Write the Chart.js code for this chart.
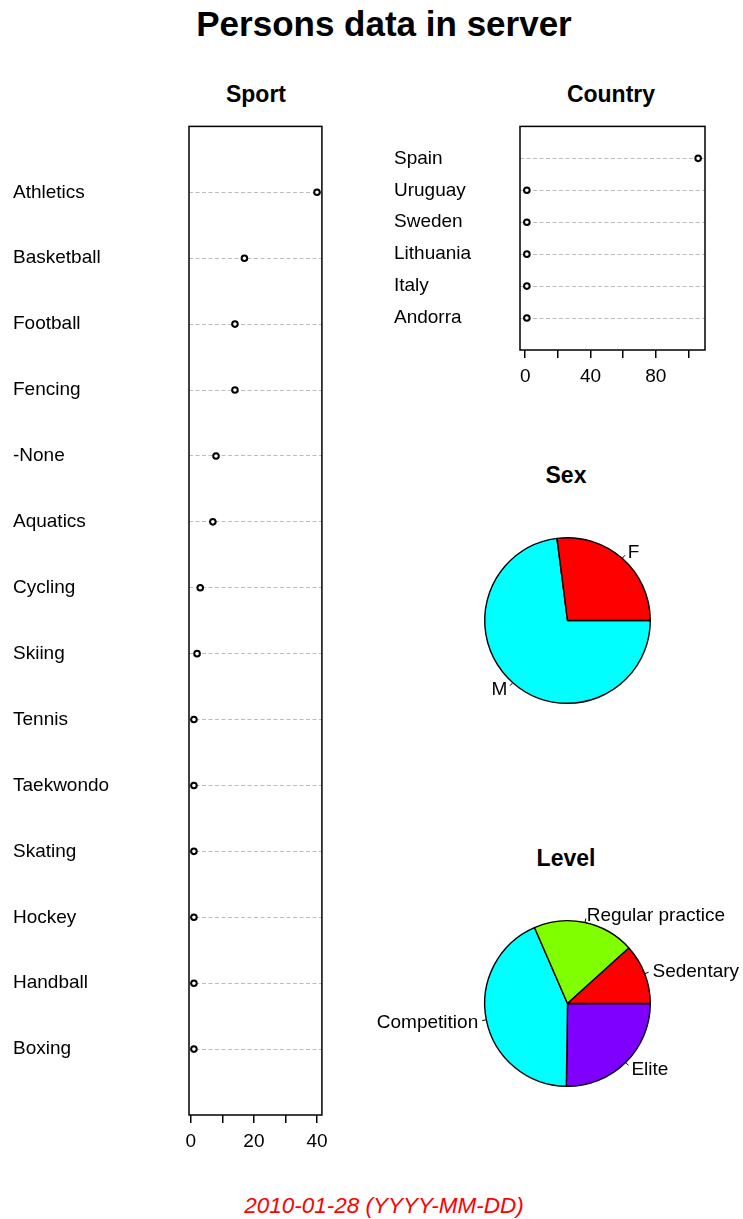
<!DOCTYPE html>
<html>
<head>
<meta charset="utf-8">
<script src="https://cdn.jsdelivr.net/npm/chart.js@4.4.1/dist/chart.umd.min.js"></script>
<style>
  html, body { margin: 0; padding: 0; background: #fff; }
  body { width: 743px; height: 1219px; position: relative; overflow: hidden;
         font-family: "Liberation Sans", Arial, sans-serif; color: #000; }
  canvas { position: absolute; }
  .txt { position: absolute; transform: translate(-50%, -50%); line-height: 1; white-space: nowrap; }
  .main { font-size: 35px; font-weight: bold; }
  .sub { font-size: 23px; font-weight: bold; }
  .foot { font-size: 22.5px; font-style: italic; color: #ff0000; }
</style>
</head>
<body>
<div class="txt main" style="left:384px;top:23px">Persons data in server</div>
<div class="txt sub" style="left:256px;top:94px">Sport</div>
<div class="txt sub" style="left:611px;top:94px">Country</div>
<div class="txt sub" style="left:566px;top:475px">Sex</div>
<div class="txt sub" style="left:566px;top:858px">Level</div>
<div class="txt foot" style="left:384px;top:1206px">2010-01-28 (YYYY-MM-DD)</div>

<canvas id="sport" width="335" height="1060" style="left:0px;top:112px;width:335px;height:1060px"></canvas>
<canvas id="country" width="340" height="300" style="left:380px;top:112px;width:340px;height:300px"></canvas>
<canvas id="sex" width="220" height="200" style="left:460px;top:521px;width:220px;height:200px"></canvas>
<canvas id="level" width="383" height="200" style="left:360px;top:903px;width:383px;height:200px"></canvas>

<script>
// data
const sportNames = ['Athletics', 'Basketball', 'Football', 'Fencing', '-None', 'Aquatics', 'Cycling',
  'Skiing', 'Tennis', 'Taekwondo', 'Skating', 'Hockey', 'Handball', 'Boxing'];
const sportCounts = [40, 17, 14, 14, 8, 7, 3, 2, 1, 1, 1, 1, 1, 1];
const sportTicks = [0, 10, 20, 30, 40];
const sportTickLabels = [0, 20, 40];

const countryNames = ['Spain', 'Uruguay', 'Sweden', 'Lithuania', 'Italy', 'Andorra'];
const countryCounts = [106, 1, 1, 1, 1, 1];
const countryTicks = [0, 20, 40, 60, 80, 100];
const countryTickLabels = [0, 40, 80];

const sexLabels = ['F', 'M'];
const sexCounts = [30, 81];
const sexColors = ['#ff0000', '#00ffff'];

const levelLabels = ['Sedentary', 'Regular practice', 'Competition', 'Elite'];
const levelCounts = [13, 22, 48, 28];
const levelColors = ['#ff0000', '#80ff00', '#00ffff', '#8000ff'];

Chart.defaults.font.family = '"Liberation Sans", Arial, sans-serif';
Chart.defaults.color = '#000';

// box round the plot region, like R's box()
const frame = {
  id: 'frame',
  beforeDatasetsDraw(chart) {
    const { ctx, chartArea: a } = chart;
    ctx.save();
    ctx.strokeStyle = '#000';
    ctx.lineWidth = 1.5;
    ctx.strokeRect(a.left, a.top, a.right - a.left, a.bottom - a.top);
    ctx.restore();
  }
};

// pie labels with short leader lines (R pie style)
const pieLabels = {
  id: 'pieLabels',
  afterDatasetsDraw(chart) {
    const { ctx } = chart;
    const names = chart.data.labels;
    ctx.save();
    ctx.font = '19px "Liberation Sans", Arial, sans-serif';
    ctx.fillStyle = '#000';
    ctx.strokeStyle = '#000';
    ctx.lineWidth = 1;
    ctx.textBaseline = 'middle';
    chart.getDatasetMeta(0).data.forEach((arc, i) => {
      const { x, y, startAngle, endAngle, outerRadius: r } =
        arc.getProps(['x', 'y', 'startAngle', 'endAngle', 'outerRadius'], true);
      const mid = (startAngle + endAngle) / 2;
      const c = Math.cos(mid), s = Math.sin(mid);
      ctx.beginPath();
      ctx.moveTo(x + r * c, y + r * s);
      ctx.lineTo(x + 1.05 * r * c, y + 1.05 * r * s);
      ctx.stroke();
      ctx.textAlign = c < 0 ? 'right' : 'left';
      ctx.fillText(names[i], x + 1.1 * r * c, y + 1.1 * r * s + 1);
    });
    ctx.restore();
  }
};

function dotChart(id, names, counts, ticks, shown, area) {
  const lo = Math.min(...counts), hi = Math.max(...counts);
  const ext = (hi - lo) * 0.04;
  return new Chart(document.getElementById(id), {
    type: 'scatter',
    data: {
      datasets: [{
        data: counts.map((v, i) => ({ x: v, y: i + 1 })),
        pointStyle: 'circle',
        pointRadius: 2.8,
        borderWidth: 2,
        borderColor: '#000',
        backgroundColor: '#fff',
      }]
    },
    options: {
      responsive: false,
      animation: false,
      events: [],
      layout: { padding: area.pad },
      plugins: { legend: { display: false }, tooltip: { enabled: false } },
      scales: {
        x: {
          type: 'linear',
          min: lo - ext,
          max: hi + ext,
          afterBuildTicks: (s) => { s.ticks = ticks.map(v => ({ value: v })); },
          afterFit: (s) => { s.height = area.xh; },
          ticks: {
            autoSkip: false, maxRotation: 0, padding: 7, font: { size: 19 },
            callback: (v) => shown.includes(v) ? String(v) : '',
          },
          grid: { drawOnChartArea: false, drawTicks: true, tickLength: 8, lineWidth: 1.5, color: '#000' },
          border: { display: false },
        },
        y: {
          type: 'linear',
          min: 0,
          max: names.length + 1,
          reverse: true,
          afterBuildTicks: (s) => { s.ticks = names.map((n, i) => ({ value: i + 1 })); },
          afterFit: (s) => { s.width = area.yw; },
          ticks: {
            autoSkip: false, crossAlign: 'far', font: { size: 19 },
            callback: (v) => names[v - 1],
          },
          grid: { drawTicks: false, color: '#bdbdbd', lineWidth: 1 },
          border: { display: false, dash: [4, 2.5] },
        },
      },
    },
    plugins: [frame],
  });
}

function pieChart(id, labels, counts, colors, pad) {
  // R draws slices counter-clockwise from 3 o'clock; Chart.js goes clockwise
  return new Chart(document.getElementById(id), {
    type: 'pie',
    data: {
      labels: labels.slice().reverse(),
      datasets: [{
        data: counts.slice().reverse(),
        backgroundColor: colors.slice().reverse(),
        borderColor: '#000',
        borderWidth: 1.4,
      }]
    },
    options: {
      responsive: false,
      animation: false,
      events: [],
      rotation: 90,
      layout: { padding: pad },
      plugins: { legend: { display: false }, tooltip: { enabled: false } },
    },
    plugins: [pieLabels],
  });
}

dotChart('sport', sportNames, sportCounts, sportTicks, sportTickLabels,
  { pad: { top: 14, left: 13, right: 12, bottom: 0 }, yw: 176, xh: 57 });
dotChart('country', countryNames, countryCounts, countryTicks, countryTickLabels,
  { pad: { top: 14, left: 14, right: 15, bottom: 0 }, yw: 126, xh: 62 });
pieChart('sex', sexLabels, sexCounts, sexColors, { top: 16, bottom: 17, left: 24, right: 29 });
pieChart('level', levelLabels, levelCounts, levelColors, { top: 17, bottom: 16, left: 124, right: 92 });
</script>
</body>
</html>
